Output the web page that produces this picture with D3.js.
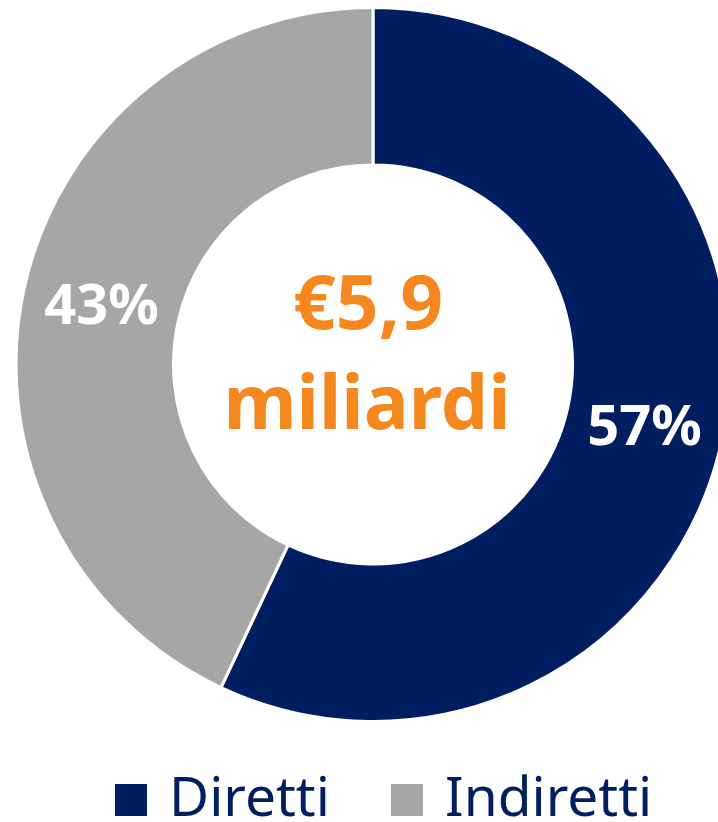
<!DOCTYPE html>
<html>
<head>
<meta charset="utf-8">
<script src="https://cdn.jsdelivr.net/npm/d3@7"></script>
<style>
  html, body { margin: 0; padding: 0; background: #ffffff; }
  svg { display: block; }
</style>
</head>
<body>
<svg id="chart" width="718" height="822"></svg>
<script>
// Data
const categories = ["Diretti", "Indiretti"];
const shares = [57, 43];
const colors = ["#001E60", "#A6A6A6"];
const centerLines = ["€5,9", "miliardi"];

const svg = d3.select("#chart");
const cx = 373, cy = 364.5;
const outerR = 357, innerR = 199.5;

const pie = d3.pie().sort(null).value(d => d.value);
const arcs = pie(categories.map((c, i) => ({ name: c, value: shares[i] })));
const arc = d3.arc().innerRadius(innerR).outerRadius(outerR);

const g = svg.append("g").attr("transform", `translate(${cx},${cy})`);

g.selectAll("path.slice")
  .data(arcs)
  .join("path")
  .attr("class", "slice")
  .attr("d", arc)
  .attr("fill", (d, i) => colors[i])
  .attr("stroke", "#ffffff")
  .attr("stroke-width", 3)
  .attr("stroke-linejoin", "miter");

g.selectAll("text.pct")
  .data(arcs)
  .join("text")
  .attr("class", "pct")
  .attr("x", d => arc.centroid(d)[0])
  .attr("y", d => arc.centroid(d)[1] + 20)
  .attr("text-anchor", "middle")
  .attr("font-family", "'Noto Sans', sans-serif")
  .attr("font-weight", 700)
  .attr("font-size", 56)
  .attr("fill", "#ffffff")
  .text(d => d.data.value + "%");

// Center text
g.append("text")
  .attr("x", -5)
  .attr("y", -36)
  .attr("text-anchor", "middle")
  .attr("font-family", "'Noto Sans', sans-serif")
  .attr("font-weight", 700)
  .attr("font-size", 75)
  .attr("fill", "#F5871F")
  .text(centerLines[0]);

g.append("text")
  .attr("x", -6)
  .attr("y", 64)
  .attr("text-anchor", "middle")
  .attr("font-family", "'Noto Sans', sans-serif")
  .attr("font-weight", 700)
  .attr("font-size", 75)
  .attr("fill", "#F5871F")
  .text(centerLines[1]);

// Legend
const legendX = [115, 391];
const leg = svg.append("g");
categories.forEach((c, i) => {
  leg.append("rect")
    .attr("x", legendX[i]).attr("y", 784)
    .attr("width", 32).attr("height", 32)
    .attr("fill", colors[i]);
  leg.append("text")
    .attr("x", legendX[i] + 54)
    .attr("y", 816)
    .attr("font-family", "'Noto Sans', sans-serif")
    .attr("font-size", 55)
    .attr("fill", "#001E60")
    .text(c);
});
</script>
</body>
</html>
